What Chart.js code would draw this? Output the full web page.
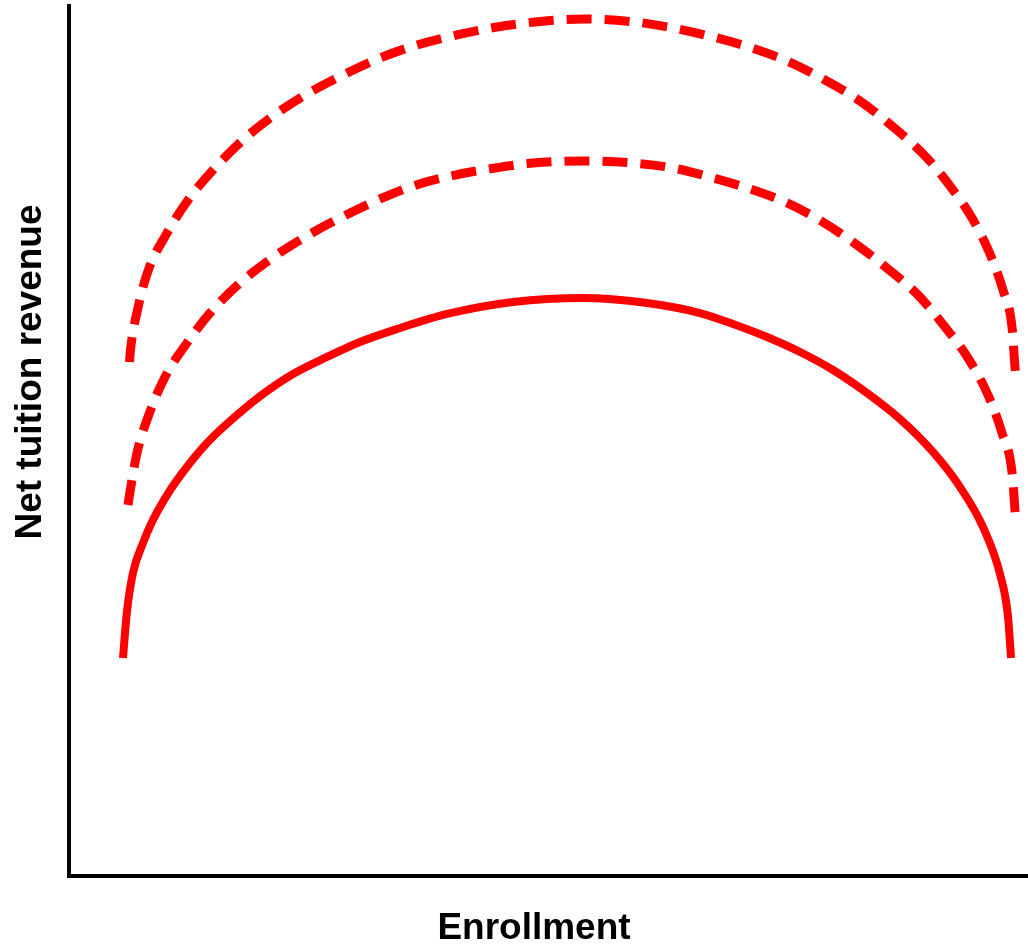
<!DOCTYPE html>
<html>
<head>
<meta charset="utf-8">
<script src="https://cdn.jsdelivr.net/npm/chart.js@4.4.1/dist/chart.umd.min.js"></script>
<style>
  html, body { margin: 0; padding: 0; background: #fff; }
  canvas { display: block; }
</style>
</head>
<body>
<canvas id="revenueChart" width="1028" height="950"></canvas>
<script>
// enrollment (0-100) and net tuition revenue (0-100)
const baseX = [5.63, 6.05, 6.67, 7.72, 8.65, 10.22, 11.89, 14.39, 17.52, 20.23, 23.36, 26.9, 30.34, 34.2, 39.42, 46.3, 53.6, 60.27, 65.8, 69.24, 72.78, 76.23, 79.67, 83.21, 86.65, 90.09, 92.91, 95.31, 97.08, 97.91, 98.23];
const baseY = [25.06, 30.46, 34.83, 38.28, 40.69, 43.79, 46.44, 49.77, 52.99, 55.4, 57.7, 59.66, 61.38, 62.87, 64.6, 65.98, 66.44, 65.86, 64.71, 63.45, 61.95, 60.23, 58.16, 55.52, 52.53, 48.74, 44.71, 40.11, 34.71, 29.89, 25.06];

const midX = [6.15, 6.36, 7.09, 8.24, 10.01, 12.3, 14.7, 17.83, 21.17, 24.61, 28.26, 32.43, 35.87, 40.25, 44.42, 48.38, 53.6, 58.81, 62.98, 66.84, 71.01, 74.87, 78.62, 82.17, 85.4, 88.53, 91.35, 93.74, 95.83, 97.29, 98.33, 98.64, 98.71];
const midY = [42.64, 44.14, 48.62, 52.76, 57.36, 61.26, 64.71, 68.16, 71.03, 73.45, 75.63, 77.82, 79.31, 80.57, 81.38, 81.95, 82.18, 81.95, 81.38, 80.34, 78.97, 77.36, 75.17, 72.53, 69.77, 66.78, 63.1, 59.54, 55.29, 50.92, 46.44, 42.07, 40.69];

const highX = [6.31, 6.41, 7.19, 8.24, 10.22, 12.41, 15.02, 18.14, 21.27, 24.82, 28.57, 32.43, 36.29, 40.46, 44.63, 48.59, 53.81, 59.02, 62.98, 67.15, 71.22, 74.87, 78.83, 82.48, 85.82, 89.47, 91.55, 94.16, 96.04, 97.39, 98.33, 98.64, 98.75];
const highY = [59.08, 60.46, 65.29, 69.54, 73.91, 77.7, 81.15, 84.6, 87.36, 89.89, 92.07, 94.02, 95.52, 96.67, 97.59, 98.16, 98.51, 98.16, 97.47, 96.44, 95.17, 93.68, 91.49, 89.08, 86.21, 82.53, 79.77, 75.63, 71.49, 67.36, 63.1, 58.51, 57.01];

const xTitle = "Enrollment";
const yTitle = "Net tuition revenue";

const toPoints = (xs, ys) => xs.map((x, i) => ({ x: x, y: ys[i] }));

// axis titles drawn by hand so they sit where the original has them
const axisTitles = {
  id: "axisTitles",
  afterDraw(chart) {
    const ctx = chart.ctx;
    ctx.save();
    ctx.fillStyle = "#000";
    ctx.font = "bold 37px 'Liberation Sans', Arial, sans-serif";
    ctx.textAlign = "center";
    ctx.textBaseline = "middle";
    ctx.fillText(xTitle, 534, 929);
    ctx.translate(31, 372);
    ctx.rotate(-Math.PI / 2);
    ctx.fillText(yTitle, 0, 0);
    ctx.restore();
  },
};

const red = "#ff0000";

const curve = (xs, ys, dashed) => ({
  data: toPoints(xs, ys),
  borderColor: red,
  borderWidth: dashed ? 9 : 8,
  borderDash: dashed ? [25, 13] : [],
  borderCapStyle: "butt",
  pointRadius: 0,
  cubicInterpolationMode: "monotone",
});

new Chart(document.getElementById("revenueChart"), {
  type: "line",
  data: {
    datasets: [
      curve(highX, highY, true),
      curve(midX, midY, true),
      curve(baseX, baseY, false),
    ],
  },
  options: {
    responsive: false,
    animation: false,
    layout: { padding: { left: 69, right: 0, top: 6, bottom: 74 } },
    plugins: {
      legend: { display: false },
      tooltip: { enabled: false },
    },
    scales: {
      x: {
        type: "linear",
        min: 0,
        max: 100,
        ticks: { display: false },
        grid: { display: false, drawTicks: false },
        border: { display: true, color: "#000", width: 4 },
      },
      y: {
        min: 0,
        max: 100,
        ticks: { display: false },
        grid: { display: false, drawTicks: false },
        border: { display: true, color: "#000", width: 4 },
      },
    },
  },
  plugins: [axisTitles],
});
</script>
</body>
</html>
